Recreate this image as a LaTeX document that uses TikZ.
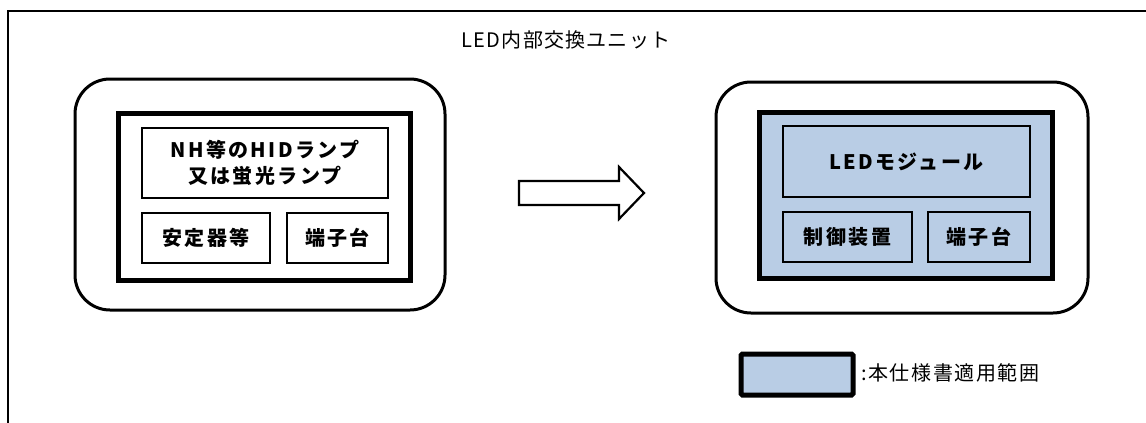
\documentclass[tikz,border=0pt]{standalone}
\usepackage{fontspec}
\newfontfamily\jpsp[LetterSpace=12]{Noto Sans CJK JP}
\newfontfamily\jptitle[LetterSpace=6]{Noto Sans CJK JP}
\newfontfamily\jpleg[LetterSpace=8]{Noto Sans CJK JP}
\definecolor{specblue}{RGB}{185,205,229}
\tikzset{
  frameline/.style={line width=2pt},
  unitbox/.style={draw, line width=3pt, rounded corners=35pt, inner sep=0pt},
  scopebox/.style={draw, line width=5pt, inner sep=0pt},
  partbox/.style={draw, line width=1.6pt, inner sep=0pt, align=center,
    font=\jpsp\bfseries\fontsize{20}{26}\selectfont},
  spec/.style={fill=specblue},
  bigarrow/.style={draw, line width=2.2pt, line join=miter, fill=white},
  titletext/.style={inner sep=0pt, font=\jptitle\fontsize{20}{20}\selectfont},
  legtext/.style={inner sep=0pt, font=\jpleg\fontsize{20}{20}\selectfont}
}
\begin{document}
\begin{tikzpicture}[x=1pt,y=-1pt]
\useasboundingbox (0,0) rectangle (1146,423);
% outer frame (top and left edges)
\coordinate (fbl) at (8,423);
\coordinate (ftl) at (8,11);
\coordinate (ftr) at (1146,11);
\draw[frameline] (fbl) -- (ftl) -- (ftr);
% title
\node[titletext] (title) at (566,40) {LED内部交換ユニット};
% left unit
\node[unitbox, minimum width=370pt, minimum height=231pt] (lu) at (260,194.5) {};
\node[scopebox, minimum width=292pt, minimum height=167pt] (lt) at (264,196.5) {};
\node[partbox, minimum width=246pt, minimum height=70pt] (la) at (265,163) {NH等のHIDランプ\\又は蛍光ランプ};
\node[partbox, minimum width=128pt, minimum height=50pt] (lb1) at (206,238) {安定器等};
\node[partbox, minimum width=101pt, minimum height=50pt] (lb2) at (337.5,238) {端子台};
% arrow
\draw[bigarrow] (519,181) -- (619,181) -- (619,167) -- (644,193) -- (619,219) -- (619,205) -- (519,205) -- cycle;
% right unit
\node[unitbox, minimum width=372pt, minimum height=231pt] (ru) at (902,197.5) {};
\node[scopebox, spec, minimum width=293pt, minimum height=166pt] (rt) at (905.5,195) {};
\node[partbox, spec, minimum width=247pt, minimum height=71pt] (ra) at (906.5,161.5) {LEDモジュール};
\node[partbox, spec, minimum width=129pt, minimum height=50pt] (rb1) at (847.5,237) {制御装置};
\node[partbox, spec, minimum width=102pt, minimum height=50pt] (rb2) at (979,237) {端子台};
% legend
\node[scopebox, spec, rounded corners=1.5pt, minimum width=112pt, minimum height=41pt] (leg) at (797,374.5) {};
\node[legtext, anchor=west] (legtext) at (861,373) {:本仕様書適用範囲};
\end{tikzpicture}
\end{document}
